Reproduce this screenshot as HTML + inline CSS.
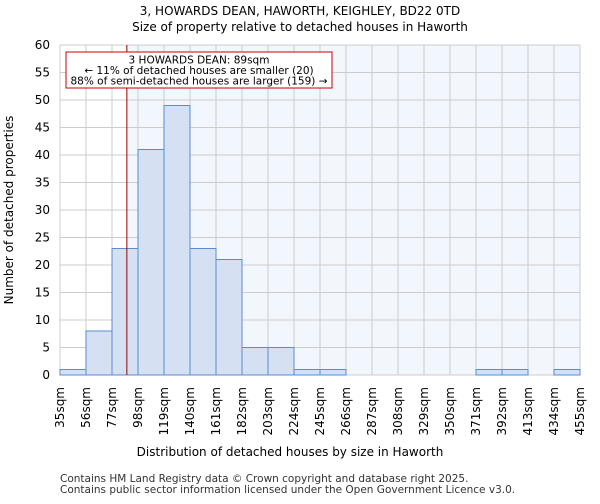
<!DOCTYPE html>
<html><head><meta charset="utf-8"><style>
body{margin:0;background:#fff;font-family:"DejaVu Sans","Liberation Sans",sans-serif;}
</style></head><body>
<svg id="chart" width="600" height="500" xmlns="http://www.w3.org/2000/svg" font-family="DejaVu Sans, Liberation Sans, sans-serif">
<text x="300" y="15" text-anchor="middle" font-size="12">3, HOWARDS DEAN, HAWORTH, KEIGHLEY, BD22 0TD</text>
<text x="300" y="31" text-anchor="middle" font-size="12">Size of property relative to detached houses in Haworth</text>
<g id="plot"></g>
<text x="290" y="456" text-anchor="middle" font-size="12">Distribution of detached houses by size in Haworth</text>
<text transform="translate(13,210) rotate(-90)" text-anchor="middle" font-size="12">Number of detached properties</text>
<text x="60" y="482" font-size="10.5" fill="#333">Contains HM Land Registry data © Crown copyright and database right 2025.</text>
<text x="60" y="493" font-size="10.5" fill="#333">Contains public sector information licensed under the Open Government Licence v3.0.</text>
</svg>
<script>
const binEdges=[35,56,77,98,119,140,161,182,203,224,245,266,287,308,329,350,371,392,413,434,455];
const counts=[1,8,23,41,49,23,21,5,5,1,1,0,0,0,0,0,1,1,0,1];
const yTicks=[0,5,10,15,20,25,30,35,40,45,50,55,60];
const markerValue=89;
const NS="http://www.w3.org/2000/svg";
const L=60,R=580,T=45,B=375;
const xs=v=>L+(v-35)/(455-35)*(R-L);
const ys=v=>B-v/60*(B-T);
const g=document.getElementById('plot');
function mk(t,a){const e=document.createElementNS(NS,t);for(const k in a)e.setAttribute(k,a[k]);g.appendChild(e);return e;}
const mx=xs(markerValue);
let e=mk('rect',{x:L,y:T,width:R-L,height:B-T,fill:'#fff'});


e=mk('rect',{x:mx,y:T,width:R-mx,height:B-T,fill:'#f2f6fd'});


yTicks.forEach(v=>{
 e=mk('line',{x1:L,x2:R,y1:ys(v),y2:ys(v),stroke:'#cccccc','stroke-width':1});
 
 
 e=mk('text',{x:L-10,y:ys(v)+4,'text-anchor':'end','font-size':12});
 e.textContent=v;
 
 
});
binEdges.forEach(v=>{
 e=mk('line',{x1:xs(v),x2:xs(v),y1:T,y2:B,stroke:'#cccccc','stroke-width':1});
 
 
 e=mk('text',{transform:`translate(${xs(v)+4},${B+12}) rotate(-90)`,'text-anchor':'end','font-size':12});
 e.textContent=v+'sqm';
 
 
});
counts.forEach((c,i)=>{
 if(c<=0)return;
 const x0=xs(binEdges[i]),x1=xs(binEdges[i+1]);
 e=mk('rect',{x:x0,y:ys(c),width:x1-x0,height:B-ys(c),fill:'#d6e0f3',stroke:'#5b8bd0','stroke-width':1});
 
 
});
e=mk('line',{x1:mx,x2:mx,y1:T,y2:B,stroke:'#990000','stroke-width':1});


e=mk('rect',{x:66,y:52,width:266,height:36,fill:'#fff',stroke:'#cc0000','stroke-width':1});


['3 HOWARDS DEAN: 89sqm','← 11% of detached houses are smaller (20)','88% of semi-detached houses are larger (159) →'].forEach((s,i)=>{
 e=mk('text',{x:199,y:63.5+i*10.5,'text-anchor':'middle','font-size':10.5});
 e.textContent=s;
 
 
});
</script>
</body></html>
